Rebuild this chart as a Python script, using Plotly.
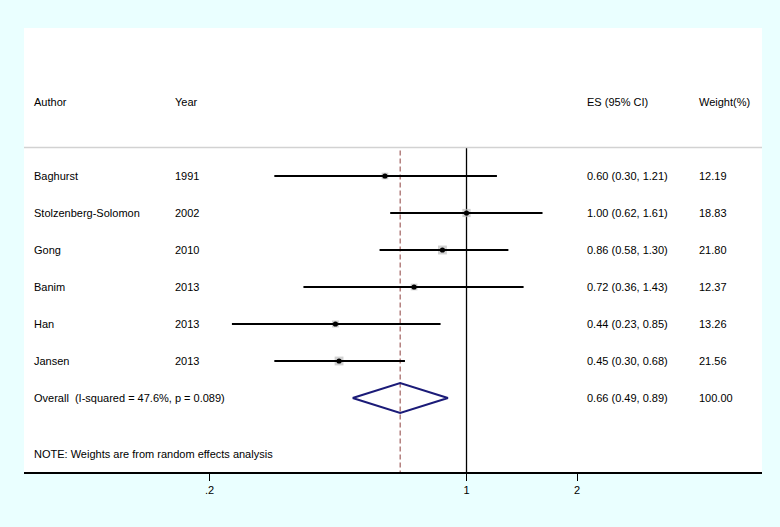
import plotly.graph_objects as go
import math

authors = ["Baghurst", "Stolzenberg-Solomon", "Gong", "Banim", "Han", "Jansen"]
years = ["1991", "2002", "2010", "2013", "2013", "2013"]
es = [0.60, 1.00, 0.86, 0.72, 0.44, 0.45]
ci_lo = [0.30, 0.62, 0.58, 0.36, 0.23, 0.30]
ci_hi = [1.21, 1.61, 1.30, 1.43, 0.85, 0.68]
weights = [12.19, 18.83, 21.80, 12.37, 13.26, 21.56]

overall_es = 0.66
overall_lo = 0.49
overall_hi = 0.89
overall_label = "Overall&nbsp; (I-squared = 47.6%, p = 0.089)"
overall_weight = "100.00"

header = ["Author", "Year", "ES (95% CI)", "Weight(%)"]
note = "NOTE: Weights are from random effects analysis"

tick_vals = [0.2, 1, 2]
tick_text = [".2", "1", "2"]

rows = list(range(1, len(authors) + 1))
overall_row = len(authors) + 1
header_row = -1
note_row = 8.5
sep_row = 0.23
y_top, y_bottom = -3, 9

FONT = "Arial, Liberation Sans, sans-serif"
fig = go.Figure()

# vertical reference line at 1
fig.add_trace(go.Scatter(x=[1, 1], y=[sep_row, y_bottom], mode="lines",
                         line=dict(color="black", width=1.3), hoverinfo="skip"))
# overall dashed line
fig.add_trace(go.Scatter(x=[overall_es, overall_es], y=[sep_row + 0.08, y_bottom], mode="lines",
                         line=dict(color="#A0605E", width=1.2, dash="5px,3px"), hoverinfo="skip"))

# weight boxes
fig.add_trace(go.Scatter(x=es, y=rows, mode="markers",
                         marker=dict(symbol="square", color="#BDBDBD",
                                     size=[1.9 * math.sqrt(w) for w in weights],
                                     line=dict(width=0)), hoverinfo="skip"))
# CI lines
cx, cy = [], []
for lo, hi, r in zip(ci_lo, ci_hi, rows):
    cx += [lo, hi, None]
    cy += [r, r, None]
fig.add_trace(go.Scatter(x=cx, y=cy, mode="lines", line=dict(color="black", width=2),
                         hoverinfo="skip"))
# point estimates
fig.add_trace(go.Scatter(x=es, y=rows, mode="markers",
                         marker=dict(symbol="circle", color="black", size=5.2), hoverinfo="skip"))
# overall diamond
dh = 0.405
fig.add_trace(go.Scatter(x=[overall_lo, overall_es, overall_hi, overall_es, overall_lo],
                         y=[overall_row, overall_row - dh, overall_row, overall_row + dh, overall_row],
                         mode="lines", line=dict(color="#1B1B78", width=2), hoverinfo="skip"))

col_x = [(32 - 24) / 738, (173 - 24) / 738, (585 - 24) / 738, (697 - 24) / 738]

def txt(x, y, s):
    fig.add_annotation(x=x, y=y, xref="paper", yref="y", text=s, showarrow=False,
                       xanchor="left", yanchor="middle",
                       font=dict(family=FONT, size=11, color="black"))

for i, h in enumerate(header):
    txt(col_x[i], header_row, h)
for a, yr, e, lo, hi, w, r in zip(authors, years, es, ci_lo, ci_hi, weights, rows):
    txt(col_x[0], r, a)
    txt(col_x[1], r, yr)
    txt(col_x[2], r, f"{e:.2f} ({lo:.2f}, {hi:.2f})")
    txt(col_x[3], r, f"{w:.2f}")
txt(col_x[0], overall_row, overall_label)
txt(col_x[2], overall_row, f"{overall_es:.2f} ({overall_lo:.2f}, {overall_hi:.2f})")
txt(col_x[3], overall_row, overall_weight)
txt(col_x[0], note_row, note)

fig.add_shape(type="line", xref="paper", yref="y", x0=0, x1=1, y0=sep_row, y1=sep_row,
              line=dict(color="#D2D2D2", width=1.5))

fig.update_layout(
    width=780, height=527,
    margin=dict(l=24, r=18, t=28, b=55),
    paper_bgcolor="#EAFFFF", plot_bgcolor="white",
    showlegend=False,
    font=dict(family=FONT, size=11, color="black"),
    xaxis=dict(type="log", range=[-1.204, 0.804], tickvals=tick_vals, ticktext=tick_text,
               showgrid=False, zeroline=False, showline=True, linecolor="black", linewidth=2,
               ticks="outside", ticklen=7, tickwidth=1.3, tickcolor="black",
               tickfont=dict(family=FONT, size=11, color="black"), fixedrange=True),
    yaxis=dict(range=[y_bottom, y_top], visible=False, showgrid=False, zeroline=False,
               fixedrange=True),
)

fig.write_html("out.html", config={"displayModeBar": False},
               post_script="document.body.style.margin='0px';document.body.style.overflow='hidden';")
